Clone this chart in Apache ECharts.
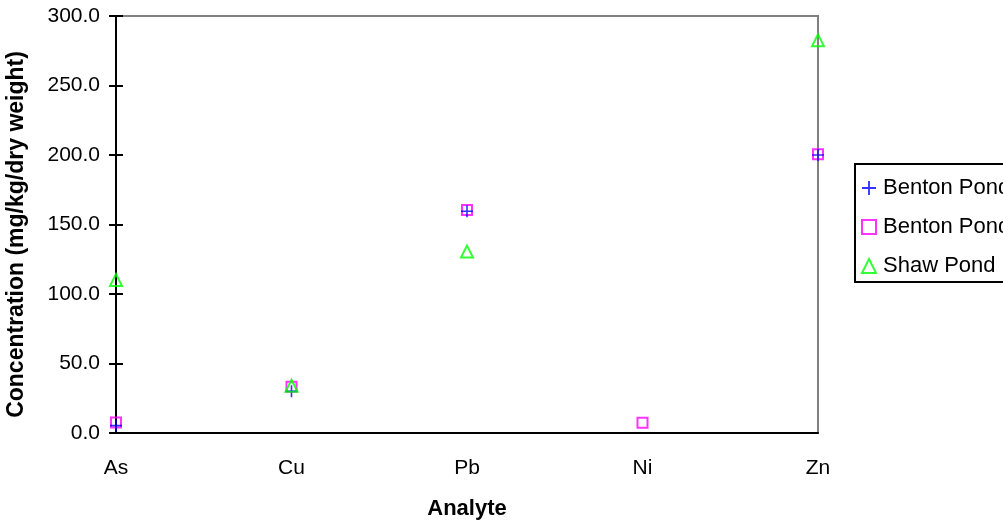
<!DOCTYPE html>
<html><head><meta charset="utf-8">
<script src="https://cdn.jsdelivr.net/npm/echarts@6/dist/echarts.min.js"></script>
<style>html,body{margin:0;padding:0;background:#fff}#c{width:1003px;height:520px}</style>
</head><body><div id="c"></div>
<script>
const categories = ['As', 'Cu', 'Pb', 'Ni', 'Zn'];
const bentonPond1 = [5.3, 30, 159.5, null, 200];
const bentonPond2 = [7.5, 33.3, 160.5, 7.4, 200.5];
const shawPond = [110, 34, 130.5, null, 282.5];
const seriesNames = ['Benton Pond 1', 'Benton Pond 2', 'Shaw Pond'];
const yTicks = { min: 0, max: 300, interval: 50 };

const font = 'Liberation Sans, Arial, sans-serif';
const chart = echarts.init(document.getElementById('c'));
const plusPath = 'path://M5.2,0H6.8V5.2H12V6.8H6.8V12H5.2V6.8H0V5.2H5.2Z';
chart.setOption({
  animation: false,
  backgroundColor: '#fff',
  textStyle: { fontFamily: font, color: '#000' },
  grid: { left: 116, right: 185, top: 16, bottom: 87, containLabel: false, outerBoundsMode: 'none',
    show: true, borderColor: '#808080', borderWidth: 2, backgroundColor: 'transparent' },
  legend: {
    left: 855, top: 164, orient: 'vertical', itemGap: 17,
    borderColor: '#000', borderWidth: 2, padding: [13, 14, 5, 6],
    itemWidth: 14, itemHeight: 14,
    textStyle: { fontFamily: font, fontSize: 22, color: '#000', padding: [0, 0, 0, 2] },
    data: seriesNames
  },
  xAxis: {
    type: 'category', data: categories, boundaryGap: false,
    axisLine: { lineStyle: { color: '#000', width: 2 } },
    axisTick: { show: false },
    axisLabel: { fontFamily: font, fontSize: 21, color: '#000', margin: 25 },
    splitLine: { show: false },
    name: 'Analyte', nameLocation: 'middle', nameGap: 65,
    nameTextStyle: { fontFamily: font, fontSize: 22, fontWeight: 'bold', color: '#000' }
  },
  yAxis: [{
    type: 'value', min: yTicks.min, max: yTicks.max, interval: yTicks.interval,
    axisLine: { show: true, lineStyle: { color: '#000', width: 2 } },
    axisTick: { show: true, length: 7, lineStyle: { color: '#000', width: 2 } },
    axisLabel: { fontFamily: font, fontSize: 21, color: '#000', margin: 16, formatter: v => v.toFixed(1) },
    splitLine: { show: false },
    name: 'Concentration (mg/kg/dry weight)', nameLocation: 'middle', nameGap: 88,
    nameTextStyle: { fontFamily: font, fontSize: 23, fontWeight: 'bold', color: '#000', padding: [0, 20, 0, 0] }
  }, {
    type: 'value', position: 'left', min: yTicks.min, max: yTicks.max, interval: yTicks.interval,
    axisLine: { show: false },
    axisTick: { show: true, inside: true, length: 7, lineStyle: { color: '#000', width: 2 } },
    axisLabel: { show: false }, splitLine: { show: false }
  }],
  series: [
    { name: seriesNames[0], type: 'scatter', data: bentonPond1, symbol: plusPath, symbolSize: 12,
      itemStyle: { color: '#0000ff' }, z: 3 },
    { name: seriesNames[1], type: 'scatter', data: bentonPond2, symbol: 'rect', symbolSize: 10,
      itemStyle: { color: 'rgba(0,0,0,0)', borderColor: '#ff00ff', borderWidth: 2 }, z: 2 },
    { name: seriesNames[2], type: 'scatter', data: shawPond, symbol: 'triangle', symbolSize: 12,
      itemStyle: { color: 'rgba(0,0,0,0)', borderColor: '#00ff00', borderWidth: 2 }, z: 4 }
  ]
});
</script></body></html>
